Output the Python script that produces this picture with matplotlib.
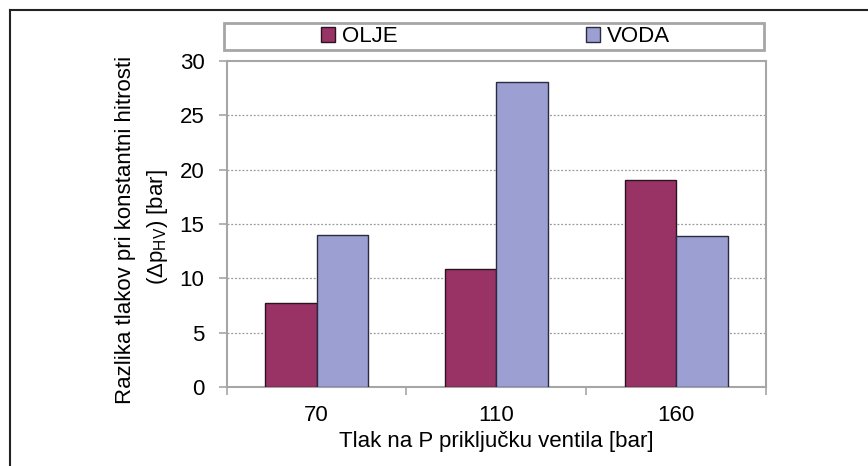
import matplotlib
matplotlib.use('Agg')
import matplotlib.pyplot as plt
import numpy as np
from matplotlib.patches import Rectangle
from matplotlib.lines import Line2D

plt.rcParams['font.family'] = ['Liberation Sans', 'DejaVu Sans']
plt.rcParams['mathtext.fontset'] = 'custom'
plt.rcParams['mathtext.rm'] = 'Liberation Sans'
plt.rcParams['mathtext.it'] = 'Liberation Sans'

# podatki
tlaki = ['70', '110', '160']
olje = [7.7, 10.9, 19.0]
voda = [14.0, 28.0, 13.9]

c_olje = '#993366'
c_voda = '#9b9fd1'
siva = '#a6a6a6'
fs = 16

fig = plt.figure(figsize=(8.68, 4.66), dpi=100)
ax = fig.add_axes([0.2612, 0.1689, 0.6213, 0.7008])

x = np.arange(len(tlaki))
w = 0.287
b1 = ax.bar(x - w / 2, olje, w, color=c_olje, edgecolor='#2a1420', lw=1.0, label='OLJE', zorder=3)
b2 = ax.bar(x + w / 2, voda, w, color=c_voda, edgecolor='#2a2a40', lw=1.0, label='VODA', zorder=3)

ax.set_xlim(-0.5, 2.5)
ax.set_ylim(0, 30)
ax.set_yticks(np.arange(0, 31, 5))
ax.set_xticks([-0.5, 0.5, 1.5, 2.5])
ax.set_xticklabels([])
ax.set_xticks(x, minor=True)
ax.set_xticklabels(tlaki, minor=True)
ax.tick_params(axis='x', which='minor', length=0, pad=13, labelsize=fs)
ax.tick_params(axis='x', which='major', length=6, color=siva, width=1.2)
ax.tick_params(axis='y', length=6, color=siva, width=1.2, pad=10, labelsize=fs)

for y in range(5, 30, 5):
    ax.axhline(y, color='#9a9a9a', lw=0.9, ls=(0, (1.5, 1.5)), zorder=1)
for s in ax.spines.values():
    s.set_color(siva)
    s.set_linewidth(1.5)

ax.set_xlabel('Tlak na P priključku ventila [bar]', fontsize=fs, labelpad=3)

# y oznaka v dveh vrsticah
fig.text(126 / 868, 1 - 230 / 466, 'Razlika tlakov pri konstantni hitrosti',
         rotation=90, ha='center', va='center', fontsize=fs)
fig.text(158 / 868, 1 - 227 / 466, r'($\Delta$p$_{HV}$) [bar]',
         rotation=90, ha='center', va='center', fontsize=fs)

# okvir legende
fig.patches.append(Rectangle((224 / 868, 1 - 50 / 466), 540 / 868, 27.3 / 466,
                             transform=fig.transFigure, fill=False,
                             edgecolor=siva, lw=2.0))
for h, lab, px in [(b1, 'OLJE', 321), (b2, 'VODA', 586)]:
    fig.legend(handles=[h], labels=[lab], loc='center left',
               bbox_to_anchor=(px / 868, 1 - 36.5 / 466), frameon=False,
               fontsize=fs, handlelength=0.65, handleheight=0.65,
               handletextpad=0.3, borderpad=0, borderaxespad=0)

# zunanji okvir (levo in zgoraj)
fig.add_artist(Line2D([10 / 868, 1], [1 - 10 / 466, 1 - 10 / 466], transform=fig.transFigure, color='#222222', lw=1.5))
fig.add_artist(Line2D([10 / 868, 10 / 868], [0, 1 - 10 / 466], transform=fig.transFigure, color='#222222', lw=1.5))

fig.savefig('out.png', dpi=100)
